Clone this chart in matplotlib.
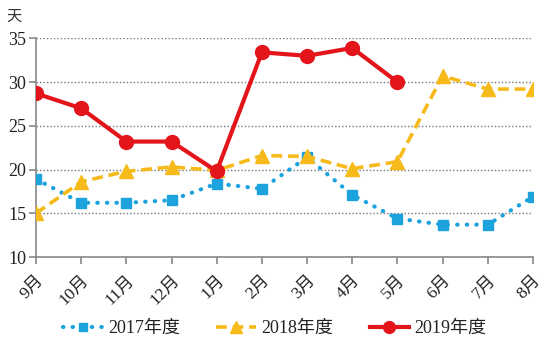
import matplotlib
matplotlib.use("Agg")
import matplotlib.pyplot as plt

months = ["9月", "10月", "11月", "12月", "1月", "2月", "3月", "4月", "5月", "6月", "7月", "8月"]
y2017 = [18.9, 16.2, 16.2, 16.5, 18.4, 17.8, 21.4, 17.1, 14.4, 13.7, 13.7, 16.9]
y2018 = [15.0, 18.6, 19.8, 20.3, 19.9, 21.6, 21.5, 20.1, 20.9, 30.7, 29.2, 29.2]
y2019 = [28.7, 27.0, 23.2, 23.2, 19.8, 33.4, 33.0, 33.9, 30.0]
yticks = [10, 15, 20, 25, 30, 35]

serif = ["Liberation Serif", "Noto Sans CJK SC"]
plt.rcParams["font.family"] = serif

fig = plt.figure(figsize=(5.5, 3.55), dpi=100)
ax = fig.add_axes([0.0655, 0.276, 0.9035, 0.616])

x = list(range(len(months)))
c17 = "#1CA3DE"
c18 = "#F7BA1B"
c19 = "#E3151B"

ax.plot(x, y2017, color=c17, lw=3, linestyle=(0, (0.1, 2.2)), dash_capstyle="round",
        marker="s", ms=7.5, label="2017年度", zorder=3)
ax.plot(x, y2018, color=c18, lw=2.6, linestyle=(0, (3, 1.6)),
        marker="^", ms=10, label="2018年度", zorder=4)
ax.plot(x[:len(y2019)], y2019, color=c19, lw=3, marker="o", ms=10,
        label="2019年度", zorder=5)

ax.set_xlim(0, len(months) - 1)
ax.set_ylim(10, 35)
ax.set_yticks(yticks)
ax.set_yticklabels([str(v) for v in yticks], fontsize=13, color="#222222")
ax.set_xticks(x)
ax.set_xticklabels(months, rotation=45, fontsize=12.5, ha="right", va="top",
                   rotation_mode="anchor", color="#222222")
for v in yticks[1:]:
    ax.axhline(v, color="#777777", lw=1, linestyle=(0, (1, 1.5)), zorder=1)

for s in ["top", "right"]:
    ax.spines[s].set_visible(False)
for s in ["left", "bottom"]:
    ax.spines[s].set_color("#888888")
    ax.spines[s].set_linewidth(1.2)
ax.tick_params(axis="both", direction="out", color="#888888", width=1.2, length=5)
ax.tick_params(axis="y", pad=2)
ax.tick_params(axis="x", pad=6)

fig.text(0.012, 0.955, "天", fontsize=11, family=["Noto Sans CJK SC"], color="#333333", va="center")

leg = fig.legend(loc="center", bbox_to_anchor=(0.5, 0.075), ncol=3, frameon=False,
                 fontsize=13, handlelength=2.2, columnspacing=2.0, handletextpad=0.3,
                 markerscale=0.85)
for t in leg.get_texts():
    t.set_color("#222222")

fig.savefig("out.png", dpi=100)
